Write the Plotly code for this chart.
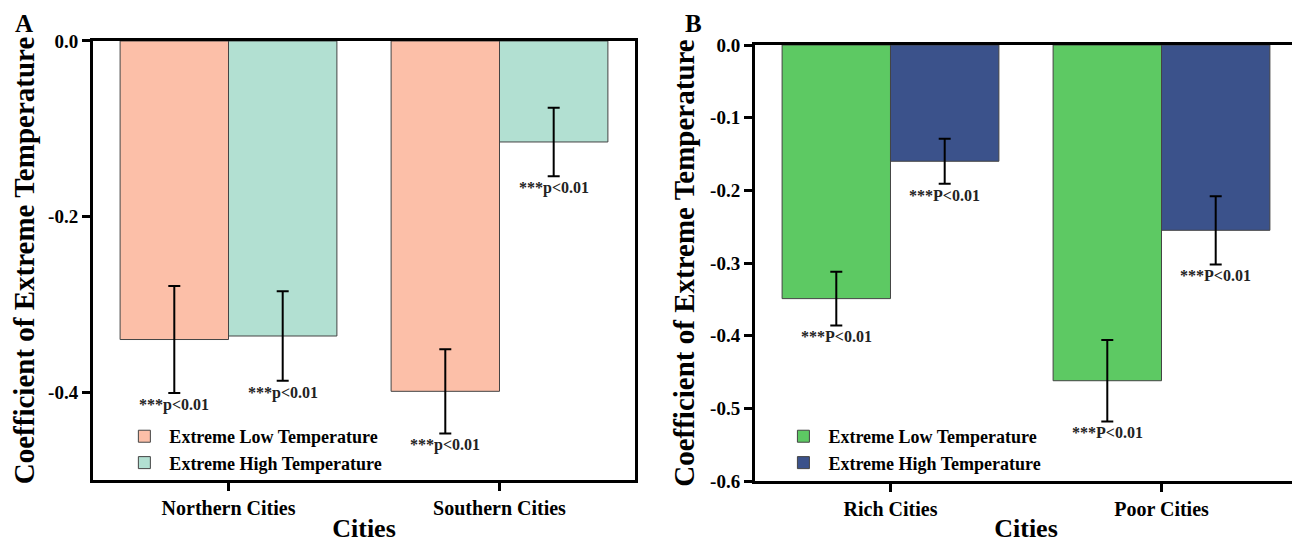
import plotly.graph_objects as go
from plotly.subplots import make_subplots

# Panel A data
cats_a = ["Northern Cities", "Southern Cities"]
low_a = [-0.340, -0.399]
low_a_err = [0.061, 0.048]
high_a = [-0.336, -0.115]
high_a_err = [0.051, 0.039]
ptext_a = "***p<0.01"
ytick_vals_a = [0, -0.2, -0.4]
ytick_text_a = ["0.0", "-0.2", "-0.4"]

# Panel B data
cats_b = ["Rich Cities", "Poor Cities"]
low_b = [-0.349, -0.462]
low_b_err = [0.037, 0.056]
high_b = [-0.160, -0.255]
high_b_err = [0.031, 0.047]
ptext_b = "***P<0.01"
ytick_vals_b = [0, -0.1, -0.2, -0.3, -0.4, -0.5, -0.6]
ytick_text_b = ["0.0", "-0.1", "-0.2", "-0.3", "-0.4", "-0.5", "-0.6"]

series_names = ["Extreme Low Temperature", "Extreme High Temperature"]
col_a = ["#FCBFA8", "#B2E0D2"]
col_b = ["#5DC963", "#3B528B"]

FONT = "Liberation Serif"
W, H = 1292, 535

fig = make_subplots(rows=1, cols=2)

def add_panel(col, cats, lows, lerr, highs, herr, colors, legend):
    for name, vals, errs, c in [(series_names[0], lows, lerr, colors[0]),
                                (series_names[1], highs, herr, colors[1])]:
        fig.add_trace(go.Bar(
            x=cats, y=vals, name=name, legend=legend,
            marker=dict(color=c, line=dict(color="#444444", width=1)),
            error_y=dict(type="data", array=errs, color="black", thickness=2, width=6),
        ), row=1, col=col)

add_panel(1, cats_a, low_a, low_a_err, high_a, high_a_err, col_a, "legend")
add_panel(2, cats_b, low_b, low_b_err, high_b, high_b_err, col_b, "legend2")

annotations = []
def add_ptext(xref, yref, cats, lows, lerr, highs, herr, text):
    for i, c in enumerate(cats):
        for off, v, e in [(-0.2, lows[i], lerr[i]), (0.2, highs[i], herr[i])]:
            annotations.append(dict(
                x=i + off, y=v - e, xref=xref, yref=yref, text=text,
                showarrow=False, yanchor="top", yshift=-1,
                font=dict(family=FONT, size=16, color="#222222", weight="bold")))

add_ptext("x", "y", cats_a, low_a, low_a_err, high_a, high_a_err, ptext_a)
add_ptext("x2", "y2", cats_b, low_b, low_b_err, high_b, high_b_err, ptext_b)

annotations.append(dict(x=5 / W, y=1.0, xref="paper", yref="paper", text="A",
                        showarrow=False, xanchor="left", yanchor="top", yshift=0,
                        font=dict(family=FONT, size=25, color="black", weight="bold")))
annotations.append(dict(x=675 / W, y=1.0, xref="paper", yref="paper", text="B",
                        showarrow=False, xanchor="left", yanchor="top", yshift=0,
                        font=dict(family=FONT, size=25, color="black", weight="bold")))

axis_common = dict(showline=True, linecolor="black", linewidth=3, mirror=True,
                   ticks="outside", ticklen=8, tickwidth=3, tickcolor="black",
                   showgrid=False, zeroline=False, automargin=False,
                   tickfont=dict(family=FONT, size=19, color="black", weight="bold"))
xaxis_common = dict(axis_common, tickfont=dict(family=FONT, size=20, color="black", weight="bold"))

xtitle_font = dict(family=FONT, size=26, color="black", weight="bold")
ytitle_font = dict(family=FONT, size=29, color="black", weight="bold")
legend_font = dict(family=FONT, size=18, color="black", weight="bold")

fig.update_layout(
    template="none",
    width=W, height=H,
    margin=dict(l=0, r=0, t=0, b=0, autoexpand=False),
    font=dict(family=FONT, color="black"),
    paper_bgcolor="white", plot_bgcolor="white",
    barmode="group", bargap=0.2, bargroupgap=0,
    annotations=annotations,
    xaxis=dict(domain=[0.06579, 0.48529], range=[-0.5, 1.5], **xaxis_common,
               title=dict(text="Cities", standoff=4, font=xtitle_font)),
    xaxis2=dict(domain=[0.57817, 0.99768], range=[-0.5, 1.5], **xaxis_common,
                title=dict(text="Cities", standoff=4, font=xtitle_font)),
    yaxis=dict(domain=[0.11776, 0.93832], range=[-0.5, 0],
               tickvals=ytick_vals_a, ticktext=ytick_text_a, **axis_common,
               title=dict(text="Coefficient of Extreme Temperature", standoff=7, font=ytitle_font)),
    yaxis2=dict(domain=[0.11589, 0.93084], range=[-0.6, 0],
                tickvals=ytick_vals_b, ticktext=ytick_text_b, **axis_common,
                title=dict(text="Coefficient of Extreme Temperature", standoff=7, font=ytitle_font)),
    legend=dict(x=0.0862, y=0.2336, xanchor="left", yanchor="top", bgcolor="rgba(0,0,0,0)",
                font=legend_font, tracegroupgap=0, itemwidth=40),
    legend2=dict(x=0.5963, y=0.2336, xanchor="left", yanchor="top", bgcolor="rgba(0,0,0,0)",
                 font=legend_font, tracegroupgap=0, itemwidth=40),
)

fig.write_html("out.html")
